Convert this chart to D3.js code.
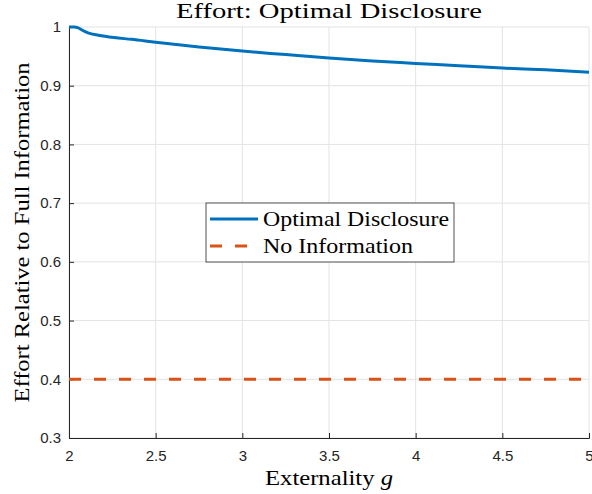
<!DOCTYPE html>
<html>
<head>
<meta charset="utf-8">
<script src="https://cdn.jsdelivr.net/npm/d3@7"></script>
<style>
  body { margin: 0; background: #fff; }
  svg { display: block; }
  .tick text { font-family: "Liberation Sans", Arial, sans-serif; font-size: 15px; fill: #262626; }
</style>
</head>
<body>
<div id="chart"></div>
<script>
// values
const externality = [2.0, 2.03, 2.05, 2.08, 2.11, 2.17, 2.26, 2.36, 2.5, 2.75, 3.0, 3.25, 3.5, 3.75, 4.0, 4.25, 4.5, 4.75, 5.0];
const optimalEffort = [1.0, 1.0, 0.999, 0.994, 0.990, 0.986, 0.982, 0.979, 0.974, 0.966, 0.959, 0.953, 0.947, 0.942, 0.938, 0.934, 0.930, 0.927, 0.923];
const noInfoEffort = 0.4;
const xTicks = [2, 2.5, 3, 3.5, 4, 4.5, 5];
const yTicks = [0.3, 0.4, 0.5, 0.6, 0.7, 0.8, 0.9, 1];
const legendLabels = ["Optimal Disclosure", "No Information"];

const width = 592, height = 494;
const margin = { top: 27, right: 3, bottom: 56, left: 69 };
const w = width - margin.left - margin.right,
  h = height - margin.top - margin.bottom;

const x = d3.scaleLinear().domain([2, 5]).range([0, w]);
const y = d3.scaleLinear().domain([0.3, 1]).range([h, 0]);

const svg = d3.select("#chart").append("svg")
  .attr("width", width)
  .attr("height", height);

const g = svg.append("g")
  .attr("transform", "translate(" + margin.left + "," + margin.top + ")");

// grid
g.append("g").selectAll("line.vg")
  .data(xTicks).enter().append("line")
  .attr("x1", d => x(d)).attr("x2", d => x(d))
  .attr("y1", 0).attr("y2", h)
  .attr("stroke", "#e3e3e3").attr("stroke-width", 1);
g.append("g").selectAll("line.hg")
  .data(yTicks).enter().append("line")
  .attr("x1", 0).attr("x2", w)
  .attr("y1", d => y(d)).attr("y2", d => y(d))
  .attr("stroke", "#e3e3e3").attr("stroke-width", 1);

// axes (ticks point inward like matlab)
const xAxis = d3.axisBottom(x).tickValues(xTicks).tickSize(-5).tickPadding(12).tickFormat(d3.format("~g"));
const yAxis = d3.axisLeft(y).tickValues(yTicks).tickSize(-5).tickPadding(8).tickFormat(d3.format("~g"));

const gx = g.append("g")
  .attr("transform", "translate(0," + h + ")")
  .call(xAxis);
const gy = g.append("g").call(yAxis);
[gx, gy].forEach(a => {
  a.select(".domain").attr("stroke", "#262626").attr("stroke-width", 1);
  a.selectAll(".tick line").attr("stroke", "#262626");
});

// series
const line = d3.line()
  .x((d, i) => x(externality[i]))
  .y(d => y(d))
  .curve(d3.curveMonotoneX);

g.append("path")
  .datum(optimalEffort)
  .attr("fill", "none")
  .attr("stroke", "#0072bd")
  .attr("stroke-width", 3)
  .attr("d", line);

g.append("line")
  .attr("x1", x(2)).attr("x2", x(5))
  .attr("y1", y(noInfoEffort)).attr("y2", y(noInfoEffort))
  .attr("stroke", "#d95319")
  .attr("stroke-width", 3)
  .attr("stroke-dasharray", "12,13");

// title and labels
const serif = '"Liberation Serif", "DejaVu Serif", "Times New Roman", serif';
svg.append("text")
  .attr("x", margin.left + w / 2)
  .attr("y", 18)
  .attr("text-anchor", "middle")
  .style("font-family", serif)
  .style("font-size", "22px")
  .attr("fill", "#000")
  .attr("textLength", 306)
  .attr("lengthAdjust", "spacingAndGlyphs")
  .text("Effort: Optimal Disclosure");

const xl = svg.append("text")
  .attr("x", margin.left + w / 2)
  .attr("y", 485)
  .attr("text-anchor", "middle")
  .style("font-family", serif)
  .style("font-size", "21px")
  .attr("fill", "#000")
  .attr("textLength", 128)
  .attr("lengthAdjust", "spacingAndGlyphs");
xl.append("tspan").text("Externality ");
xl.append("tspan").style("font-style", "italic").text("g");

svg.append("text")
  .attr("transform", "translate(29," + (margin.top + h / 2) + ") rotate(-90)")
  .attr("text-anchor", "middle")
  .style("font-family", serif)
  .style("font-size", "21px")
  .attr("fill", "#000")
  .attr("textLength", 340)
  .attr("lengthAdjust", "spacingAndGlyphs")
  .text("Effort Relative to Full Information");

// legend
const leg = svg.append("g").attr("transform", "translate(206,203)");
leg.append("rect")
  .attr("width", 248).attr("height", 59)
  .attr("fill", "#fff")
  .attr("stroke", "#262626")
  .attr("stroke-width", 0.8);
const legColors = ["#0072bd", "#d95319"];
legendLabels.forEach((lab, i) => {
  const yy = 16 + i * 27;
  leg.append("line")
    .attr("x1", 4).attr("x2", 52)
    .attr("y1", yy).attr("y2", yy)
    .attr("stroke", legColors[i])
    .attr("stroke-width", 3)
    .attr("stroke-dasharray", i === 1 ? "12,13" : null);
  leg.append("text")
    .attr("x", 57).attr("y", yy + 7)
    .style("font-family", serif)
    .style("font-size", "21px")
    .attr("fill", "#000")
    .attr("textLength", i === 0 ? 186 : 150)
    .attr("lengthAdjust", "spacingAndGlyphs")
    .text(lab);
});
</script>
</body>
</html>
